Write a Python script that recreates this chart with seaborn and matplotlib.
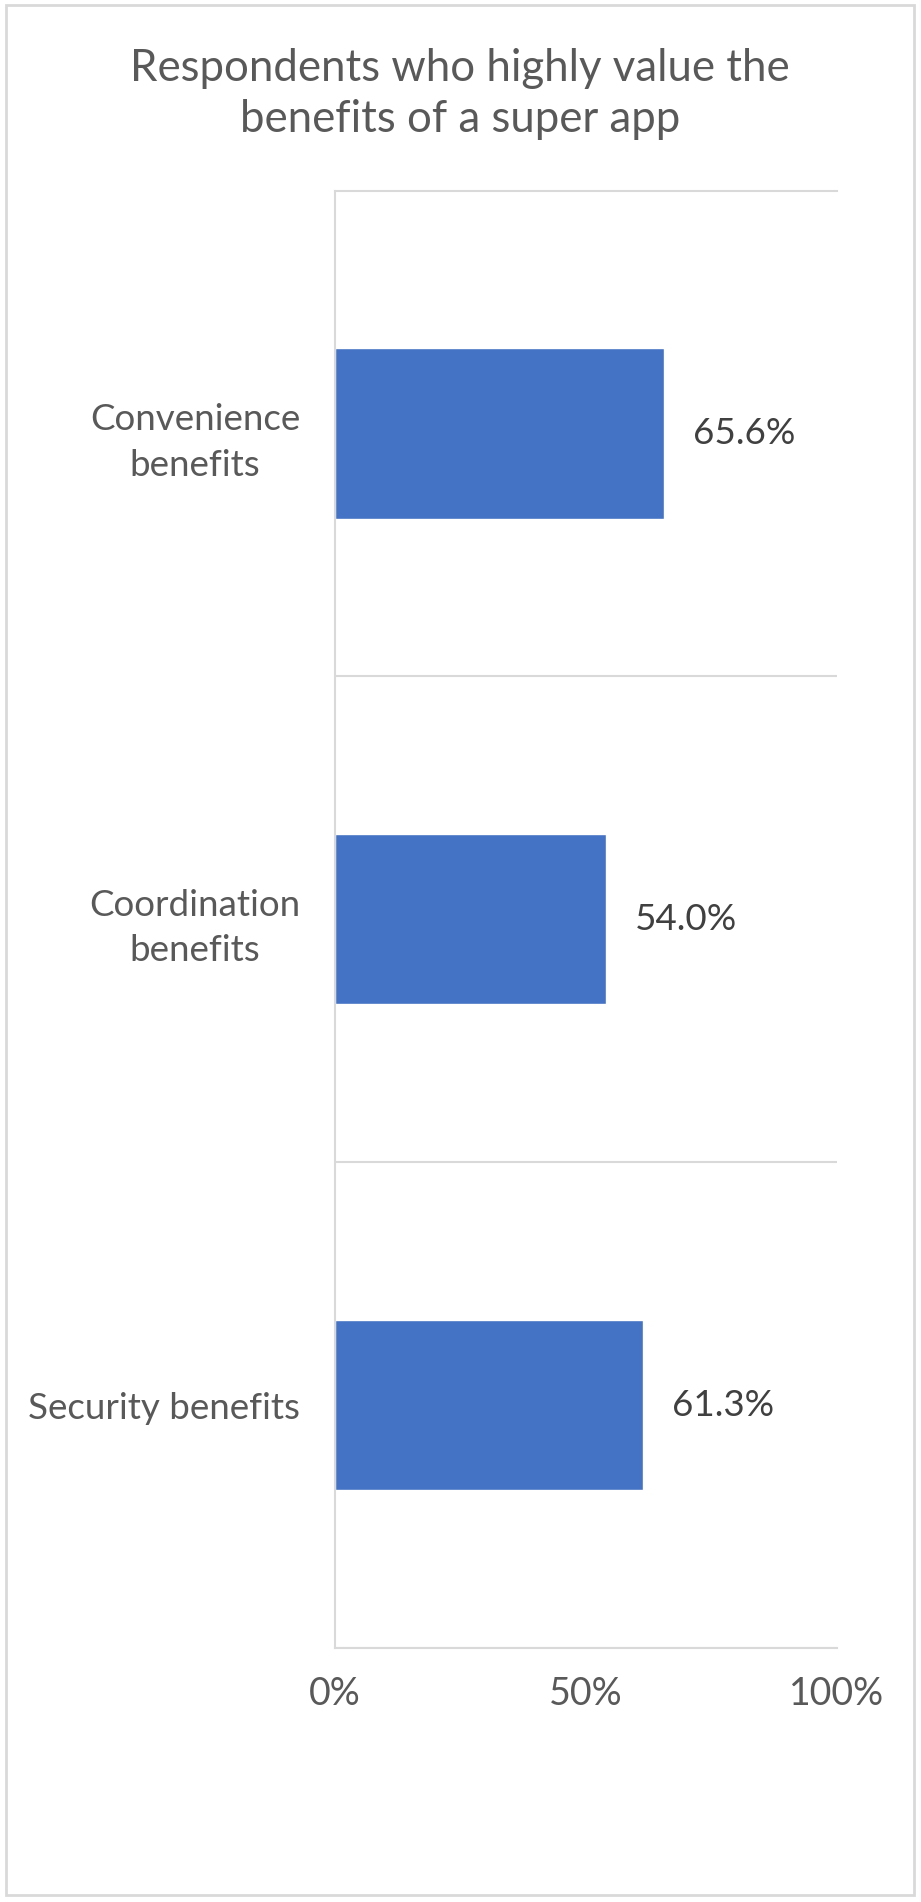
import numpy as np
import pandas as pd
import seaborn as sns
import matplotlib.pyplot as plt
from matplotlib.patches import Rectangle

categories = ["Convenience\nbenefits", "Coordination\nbenefits", "Security benefits"]
values = [65.6, 54.0, 61.3]
value_labels = ["65.6%", "54.0%", "61.3%"]
x_ticks = [0, 50, 100]
x_tick_labels = ["0%", "50%", "100%"]

sns.set_style("white")
plt.rcParams['font.family'] = ['Lato', 'DejaVu Sans']

df = pd.DataFrame({"benefit": categories, "share": values})

fig = plt.figure(figsize=(9.21, 19.02), dpi=100)
ax = fig.add_axes([0.3637, 0.1335, 0.545, 0.7663])

sns.barplot(data=df, x="share", y="benefit", orient="h", color="#4472C4",
            width=0.35, saturation=1, ax=ax)
ax.bar_label(ax.containers[0], labels=value_labels, padding=21,
             fontsize=26.5, color="#404040")

ax.set_xlim(0, 100)
ax.set_ylim(len(categories) - 0.5, -0.5)
ax.set_xticks(x_ticks)
ax.set_xticklabels(x_tick_labels)
ax.set_yticks(np.arange(len(categories)))
ax.set_yticklabels(categories, linespacing=1.45, multialignment="center")
ax.set_yticks(np.arange(len(categories)) + 0.5, minor=True)
ax.grid(which="minor", axis="y", color="#d9d9d9", linewidth=1.5)
ax.grid(which="major", visible=False)
ax.tick_params(axis="x", length=0, pad=20, labelsize=27, labelcolor="#595959")
ax.tick_params(axis="y", which="both", length=0, pad=25, labelsize=26.5, labelcolor="#595959")
ax.set_xlabel("")
ax.set_ylabel("")
for side in ["top", "bottom", "left"]:
    ax.spines[side].set_color("#d9d9d9")
    ax.spines[side].set_linewidth(1.5)
ax.spines["right"].set_visible(False)

fig.text(0.4995, 0.9506, "Respondents who highly value the\nbenefits of a super app",
         ha="center", va="center", fontsize=31.5, color="#595959", linespacing=1.33)

fig.patches.append(Rectangle((6 / 921, 7 / 1902), 908 / 921, 1890 / 1902,
                             transform=fig.transFigure, fill=False,
                             edgecolor="#d9d9d9", linewidth=2))

plt.savefig("out.png", dpi=100, facecolor="white")
